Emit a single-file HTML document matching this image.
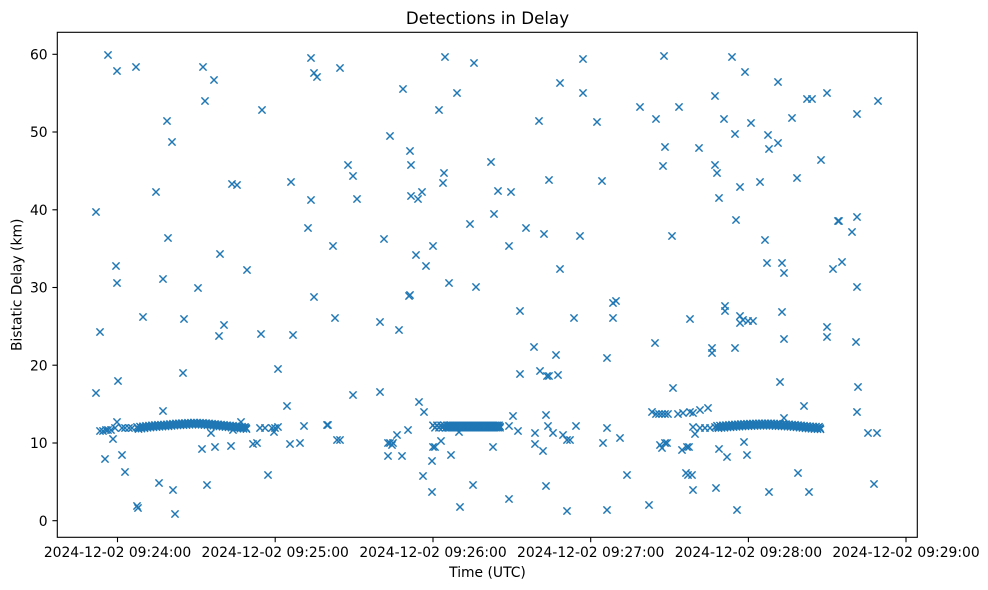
<!DOCTYPE html>
<html>
<head>
<meta charset="utf-8">
<style>
html,body{margin:0;padding:0;background:#fff;width:988px;height:590px;overflow:hidden;}
svg{display:block;}
text{font-family:"DejaVu Sans","Liberation Sans",sans-serif;fill:#000;}
</style>
</head>
<body>
<svg width="988" height="590" viewBox="0 0 988 590" xmlns="http://www.w3.org/2000/svg">
<defs>
<marker id="mx" markerWidth="10" markerHeight="10" refX="5" refY="5" markerUnits="userSpaceOnUse" orient="0" overflow="visible">
<path d="M1.4 1.4L8.6 8.6M1.4 8.6L8.6 1.4" stroke="#1f77b4" stroke-width="1.45" fill="none"/>
</marker>
</defs>
<rect x="0" y="0" width="988" height="590" fill="#fff"/>

<text x="487.5" y="24" font-size="16.67" text-anchor="middle">Detections in Delay</text>

<!-- solid band cores -->
<g fill="none" stroke="#1f77b4" stroke-width="5" stroke-linecap="round" stroke-linejoin="round">
<polyline points="140,427.6 155,426 170,425 185,424 195,423.5 205,424 215,425 225,426 235,427 245,428"/>
<polyline points="447,426.5 499,426.5"/>
<polyline points="720,426.8 730,426 745,425 760,424.5 770,424.5 780,425 790,425.6 800,426.7 810,427.6 818,428"/>
</g>

<g fill="none" stroke="none" marker-start="url(#mx)" marker-mid="url(#mx)" marker-end="url(#mx)">
<polyline points="108,55 117,71 136,67 203,67 214,80 205,101 167,121 172,142 262,110 311,58 314,73 317,77 96,212 156,192 232,184 237,185 291,182 311,200 308,228 168,238 220,254 247,270 116,266 117,283 163,279 198,288 314,297 333,246 100,332 143,317 184,319 224,325 219,336 261,334 293,335 183,373 278,369 96,393 118,381 287,406 163,411 304,426 327,425 300,443 290,444 105,459 113,439 122,455 125,472 202,449 215,447 231,446 211,433 253,444 257,443 268,475 137,506 138,508 159,483 173,490 175,514 207,485 117,422 100,431 103,431 106,430 108,430 111,430 115,428 122,428 125,428 129,428 132,428 241,422 233,430 243,428 260,428 265,428 272,428 275,428 278,427 274,432"/>
<polyline points="340,68 403,89 445,57 474,63 457,93 439,110 583,59 560,83 583,93 539,121 597,122 390,136 410,151 411,165 348,165 353,176 357,199 411,196 418,199 422,192 444,173 443,183 491,162 498,191 511,192 549,180 602,181 384,239 416,255 426,266 433,246 470,224 494,214 509,246 526,228 544,234 580,236 560,269 449,283 476,287 335,318 409,296 410,295 380,322 399,330 520,311 574,318 613,303 616,301 613,318 534,347 556,355 607,358 520,374 540,371 547,376 549,376 558,375 353,395 380,392 419,402 424,412 328,425 337,440 340,440 388,443 390,443 393,443 392,445 397,435 408,430 388,456 402,456 433,447 435,447 441,441 432,461 451,455 423,476 432,492 460,507 473,485 493,447 509,499 459,432 513,416 509,426 518,431 535,433 535,444 543,451 546,415 548,426 553,433 563,435 567,440 570,440 576,426 546,486 567,511 607,510 607,428 603,443 620,438 627,475"/>
<polyline points="664,56 732,57 745,72 778,82 715,96 640,107 679,107 656,119 724,119 751,123 735,134 792,118 807,99 812,99 827,93 878,101 857,114 768,135 778,143 769,149 665,147 699,148 663,166 715,165 717,173 821,160 797,178 760,182 740,187 719,198 736,220 672,236 765,240 838,221 839,221 857,217 852,232 767,263 782,263 784,273 833,269 842,262 857,287 690,319 725,306 725,311 740,316 740,323 743,320 748,321 753,321 782,312 827,327 827,337 784,339 856,342 655,343 712,348 712,353 735,348 673,388 780,382 858,387 804,406 857,412 652,412 656,414 659,414 662,414 665,414 668,414 678,414 683,413 690,412 693,413 700,410 708,408 693,427 695,434 700,428 705,428 710,428 715,427 784,418 660,445 665,443 662,448 667,443 682,450 687,447 689,447 719,449 727,457 744,442 747,455 868,433 877,433 686,473 688,475 692,475 693,490 716,488 769,492 798,473 809,492 874,484 649,505 737,510"/>
<!-- band 1 -->
<polyline points="137,427 140,426.6 143,426.3 146,425.9 149,425.6 152,425.3 155,425 158,424.8 161,424.7 164,424.5 167,424.3 170,424 173,423.7 176,423.4 179,423.3 182,423.1 185,423 188,422.8 191,422.7 194,422.5 197,422.6 200,422.7 203,422.9 206,423.1 209,423.4 212,423.7 215,424 218,424.3 221,424.6 224,424.9 227,425.2 230,425.5 233,425.8 236,426.1 239,426.4 242,426.7 245,427"/>
<polyline points="138.5,429 141.5,428.6 144.5,428.2 147.5,427.8 150.5,427.5 153.5,427.2 156.5,427 159.5,426.8 162.5,426.6 165.5,426.4 168.5,426.2 171.5,425.9 174.5,425.6 177.5,425.4 180.5,425.2 183.5,425.1 186.5,425 189.5,424.8 192.5,424.6 195.5,424.5 198.5,424.7 201.5,424.8 204.5,425 207.5,425.2 210.5,425.5 213.5,425.8 216.5,426.1 219.5,426.4 222.5,426.7 225.5,427 228.5,427.3 231.5,427.6 234.5,427.9 237.5,428.2 240.5,428.5 243.5,428.8 246.5,429"/>
<polyline points="138,428 141,427.7 144,427.3 147,427 150,426.6 153,426.3 156,426.1 159,425.9 162,425.7 165,425.5 168,425.3 171,425 174,424.7 177,424.5 180,424.3 183,424.1 186,424 189,423.8 192,423.7 195,423.5 198,423.6 201,423.8 204,424 207,424.2 210,424.5 213,424.8 216,425.1 219,425.4 222,425.7 225,426 228,426.3 231,426.6 234,426.9 237,427.2 240,427.5 243,427.8 246,428"/>
<!-- band 2 -->
<polyline points="433,425.3 437,425.3 441,425.3 444,425.3 447,425.3 449,425.3 451,425.3 453,425.3 455,425.3 457,425.3 459,425.3 461,425.3 463,425.3 465,425.3 467,425.3 469,425.3 471,425.3 473,425.3 475,425.3 477,425.3 479,425.3 481,425.3 483,425.3 485,425.3 487,425.3 489,425.3 491,425.3 493,425.3 495,425.3 497,425.3 499,425.3"/>
<polyline points="435,427.8 439,427.8 442.5,427.8 446,427.8 448,427.8 450,427.8 452,427.8 454,427.8 456,427.8 458,427.8 460,427.8 462,427.8 464,427.8 466,427.8 468,427.8 470,427.8 472,427.8 474,427.8 476,427.8 478,427.8 480,427.8 482,427.8 484,427.8 486,427.8 488,427.8 490,427.8 492,427.8 494,427.8 496,427.8 498,427.8 500,427.8"/>
<polyline points="448,426.5 450,426 452,427 454,426.3 456,426.8 458,426.2 460,426.9 462,426.4 464,426.7 466,426.1 468,427 470,426.4 472,426.8 474,426.2 476,426.9 478,426.3 480,426.7 482,426.1 484,427 486,426.4 488,426.8 490,426.2 492,426.9 494,426.3 496,426.7 498,426.4 500,426.6"/>
<!-- band 3 -->
<polyline points="717,425.8 720,425.6 723,425.3 726,425.1 729,424.9 732,424.6 735,424.4 738,424.2 741,424 744,423.9 747,423.7 750,423.6 753,423.5 756,423.4 759,423.3 762,423.3 765,423.3 768,423.3 771,423.3 774,423.5 777,423.7 780,423.8 783,424 786,424.1 789,424.3 792,424.6 795,424.8 798,425.1 801,425.4 804,425.7 807,426 810,426.3 813,426.5 816,426.6 819,426.8"/>
<polyline points="718.5,428.1 721.5,427.9 724.5,427.7 727.5,427.4 730.5,427.2 733.5,427 736.5,426.8 739.5,426.6 742.5,426.4 745.5,426.2 748.5,426.1 751.5,426 754.5,425.9 757.5,425.8 760.5,425.7 763.5,425.7 766.5,425.7 769.5,425.7 772.5,425.8 775.5,426 778.5,426.1 781.5,426.3 784.5,426.4 787.5,426.6 790.5,426.8 793.5,427 796.5,427.3 799.5,427.6 802.5,427.9 805.5,428.2 808.5,428.5 811.5,428.8 814.5,429 817.5,429.1 820.5,429.2"/>
<polyline points="718,427 721,426.8 724,426.5 727,426.3 730,426 733,425.8 736,425.6 739,425.4 742,425.2 745,425 748,424.9 751,424.8 754,424.7 757,424.6 760,424.5 763,424.5 766,424.5 769,424.5 772,424.6 775,424.7 778,424.9 781,425 784,425.2 787,425.4 790,425.6 793,425.8 796,426.1 799,426.4 802,426.7 805,427 808,427.3 811,427.6 814,427.8 817,428 820,428.1"/>
</g>

<rect x="57.3" y="32.3" width="860" height="505" fill="none" stroke="#000" stroke-width="1.1"/>

<g stroke="#000" stroke-width="1.1">
<line x1="52.4" y1="520.7" x2="57.3" y2="520.7"/>
<line x1="52.4" y1="443" x2="57.3" y2="443"/>
<line x1="52.4" y1="365.2" x2="57.3" y2="365.2"/>
<line x1="52.4" y1="287.5" x2="57.3" y2="287.5"/>
<line x1="52.4" y1="209.8" x2="57.3" y2="209.8"/>
<line x1="52.4" y1="132" x2="57.3" y2="132"/>
<line x1="52.4" y1="54.3" x2="57.3" y2="54.3"/>
</g>
<g font-size="13.89" text-anchor="end">
<text x="47.6" y="525.8">0</text>
<text x="47.6" y="448.1">10</text>
<text x="47.6" y="370.3">20</text>
<text x="47.6" y="292.6">30</text>
<text x="47.6" y="214.9">40</text>
<text x="47.6" y="137.1">50</text>
<text x="47.6" y="59.4">60</text>
</g>

<g stroke="#000" stroke-width="1.1">
<line x1="117.5" y1="537.3" x2="117.5" y2="542.2"/>
<line x1="275.2" y1="537.3" x2="275.2" y2="542.2"/>
<line x1="433" y1="537.3" x2="433" y2="542.2"/>
<line x1="590.7" y1="537.3" x2="590.7" y2="542.2"/>
<line x1="748.4" y1="537.3" x2="748.4" y2="542.2"/>
<line x1="906" y1="537.3" x2="906" y2="542.2"/>
</g>
<g font-size="13.89" text-anchor="middle">
<text x="117.5" y="556.8">2024-12-02 09:24:00</text>
<text x="275.2" y="556.8">2024-12-02 09:25:00</text>
<text x="433" y="556.8">2024-12-02 09:26:00</text>
<text x="590.7" y="556.8">2024-12-02 09:27:00</text>
<text x="748.4" y="556.8">2024-12-02 09:28:00</text>
<text x="906" y="556.8">2024-12-02 09:29:00</text>
</g>

<text x="487.5" y="576.8" font-size="13.89" text-anchor="middle">Time (UTC)</text>
<text x="0" y="0" font-size="13.89" text-anchor="middle" transform="translate(21.5,284.8) rotate(-90)">Bistatic Delay (km)</text>
</svg>
</body>
</html>
